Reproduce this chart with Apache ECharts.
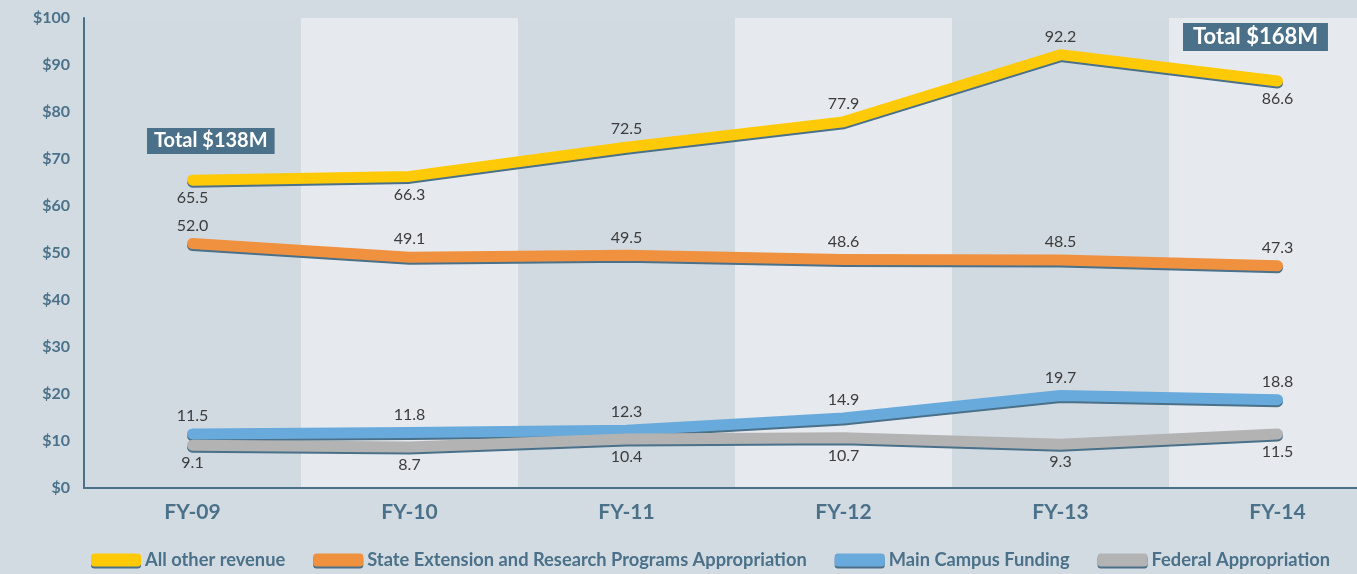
<!DOCTYPE html>
<html>
<head>
<meta charset="utf-8">
<script src="https://cdn.jsdelivr.net/npm/echarts@6/dist/echarts.min.js"></script>
<style>
  html, body { margin: 0; padding: 0; background: #d3dbe2; overflow: hidden; }
  #chart { width: 1357px; height: 574px; }
</style>
</head>
<body>
<div id="chart"></div>
<script>
const years = ['FY-09', 'FY-10', 'FY-11', 'FY-12', 'FY-13', 'FY-14'];

const otherRevenue = [65.5, 66.3, 72.5, 77.9, 92.2, 86.6];
const stateExtension = [52.0, 49.1, 49.5, 48.6, 48.5, 47.3];
const mainCampus = [11.5, 11.8, 12.3, 14.9, 19.7, 18.8];
const federal = [9.1, 8.7, 10.4, 10.7, 9.3, 11.5];

// where each value label sits
const otherRevenueLabelPos = ['bottom', 'bottom', 'top', 'top', 'top', 'bottom'];

const FONT = 'Lato, "Open Sans", sans-serif';
const AXIS_BLUE = '#4a7189';

const chart = echarts.init(document.getElementById('chart'));

const makeSeries = (name, values, color, positions) => ({
  name,
  type: 'line',
  data: values.map((v, i) => ({
    value: v,
    label: { position: positions ? positions[i] : 'top' },
  })),
  symbol: 'circle',
  symbolSize: 2,
  itemStyle: { color },
  lineStyle: {
    color,
    width: 11,
    cap: 'round',
    join: 'round',
    shadowColor: AXIS_BLUE,
    shadowOffsetY: 2,
    shadowBlur: 0,
  },
  label: {
    show: true,
    position: 'top',
    distance: 9,
    color: '#3c3c3c',
    fontFamily: FONT,
    fontSize: 16,
    formatter: (p) => p.value.toFixed(1),
  },
  emphasis: { disabled: true },
  animation: false,
});

const totalBox = (text, left, top, size, padX, padY) => ({
  type: 'text',
  left,
  top,
  z: 100,
  style: {
    text,
    fill: '#ffffff',
    fontFamily: FONT,
    fontWeight: 'bold',
    fontSize: size,
    backgroundColor: AXIS_BLUE,
    padding: [padY, padX, padY, padX],
  },
});

const option = {
  backgroundColor: '#d3dbe2',
  grid: { left: 84, width: 1302, top: 18, bottom: 86, outerBoundsMode: 'none' },
  xAxis: {
    type: 'category',
    data: years,
    boundaryGap: true,
    axisLine: { lineStyle: { color: AXIS_BLUE, width: 2 } },
    axisTick: { show: false },
    axisLabel: {
      color: AXIS_BLUE,
      fontFamily: FONT,
      fontWeight: 'bold',
      fontSize: 21,
      margin: 14,
    },
    splitArea: {
      show: true,
      areaStyle: { color: ['#d1dae1', '#e6eaef'] },
    },
  },
  yAxis: {
    type: 'value',
    min: 0,
    max: 100,
    interval: 10,
    axisLine: { show: true, lineStyle: { color: AXIS_BLUE, width: 2 } },
    axisTick: { show: false },
    splitLine: { lineStyle: { color: '#6b8ea3', width: 1 } },
    axisLabel: {
      color: AXIS_BLUE,
      fontFamily: FONT,
      fontWeight: 'bold',
      fontSize: 16,
      margin: 14,
      formatter: '${value}',
    },
  },
  legend: {
    bottom: 0,
    left: 86,
    itemGap: 28,
    itemWidth: 50,
    itemHeight: 13,
    icon: 'roundRect',
    itemStyle: { shadowColor: AXIS_BLUE, shadowOffsetY: 2, shadowBlur: 0 },
    textStyle: {
      color: AXIS_BLUE,
      fontFamily: FONT,
      fontWeight: 'bold',
      fontSize: 18.3,
      padding: [0, 0, 0, -1],
    },
  },
  graphic: [
    totalBox('Total $138M', 147, 128, 20, 7, 3),
    totalBox('Total $168M', 1183, 23, 22, 10, 3),
  ],
  series: [
    makeSeries('All other revenue', otherRevenue, '#fec907', otherRevenueLabelPos),
    makeSeries('State Extension and Research Programs Appropriation', stateExtension, '#f09140'),
    makeSeries('Main Campus Funding', mainCampus, '#69aadc'),
    makeSeries('Federal Appropriation', federal, '#b3b3b3', federal.map(() => 'bottom')),
  ],
};

chart.setOption(option);
</script>
</body>
</html>
